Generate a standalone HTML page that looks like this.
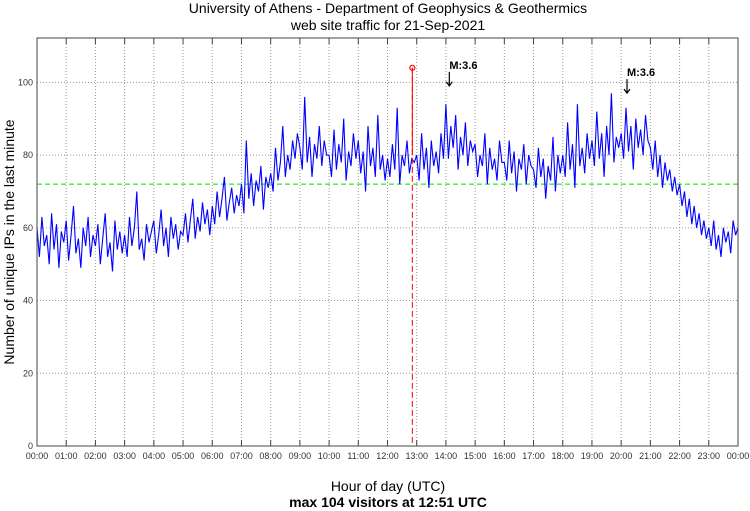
<!DOCTYPE html>
<html><head><meta charset="utf-8"><style>
body{margin:0;background:#fff;}
svg{display:block;font-family:"Liberation Sans",sans-serif;}
</style></head><body>
<svg id="chart" width="750" height="511" viewBox="0 0 750 511">
<text x="388" y="13" text-anchor="middle" font-size="14">University of Athens - Department of Geophysics &amp; Geothermics</text>
<text x="388" y="30" text-anchor="middle" font-size="14">web site traffic for 21-Sep-2021</text>
<g id="grid"></g>
<g id="axes"></g>
<line id="avgline" stroke="#00dd00" stroke-dasharray="5,3" stroke-width="1"/>
<polyline id="series" fill="none" stroke="#0000ff" stroke-width="1.1"/>
<line id="maxline" stroke="#ff0000" stroke-dasharray="6,3" stroke-width="1"/>
<circle id="maxdot" r="2.5" fill="none" stroke="#ff0000" stroke-width="1.2"/>
<g id="events"></g>
<rect x="37" y="38" width="701" height="408" fill="none" stroke="#444" stroke-width="1"/>
<text transform="translate(14,242) rotate(-90)" text-anchor="middle" font-size="14">Number of unique IPs in the last minute</text>
<text x="388" y="491" text-anchor="middle" font-size="14">Hour of day (UTC)</text>
<text x="388" y="507" text-anchor="middle" font-size="14" font-weight="bold">max 104 visitors at 12:51 UTC</text>
</svg>
<script>
const values = [
60,52,63,55,58,50,64,54,61,49,59,56,
62,51,58,66,53,57,49,60,55,63,52,58,
55,61,50,57,64,52,56,48,62,54,59,53,
58,52,63,55,60,70,54,57,51,61,56,59,
62,53,58,65,55,60,52,63,57,61,54,59,
58,64,56,62,68,57,63,59,67,61,65,58,
66,61,70,63,68,74,62,67,71,64,69,66,
72,64,84,68,75,66,73,70,77,65,74,71,
75,70,82,73,78,88,74,80,76,84,79,86,
82,76,96,78,85,74,83,79,88,77,84,80,
80,74,87,76,83,78,90,73,81,77,86,79,
84,75,81,70,88,77,82,74,91,76,80,73,
79,74,83,76,93,72,80,77,84,75,79,78,
80,73,86,76,82,71,84,77,81,75,86,79,
94,79,88,82,91,76,85,80,89,77,84,81,
83,74,80,77,86,72,82,76,79,73,84,78,
78,73,84,75,81,70,79,76,83,72,80,77,
76,71,82,74,79,68,77,73,85,70,80,75,
80,74,89,76,83,71,94,77,82,75,86,79,
84,77,92,79,86,74,88,80,97,78,85,82,
86,79,93,81,88,76,90,82,87,80,91,84,
82,76,84,74,80,71,78,73,76,70,74,69,
72,66,70,63,68,61,66,60,64,58,62,57,
60,55,62,54,58,52,60,56,59,53,62,58,60];
const stepMinutes = 5;
const yTicks = [0,20,40,60,80,100];
const xTickLabels = ["00:00","01:00","02:00","03:00","04:00","05:00","06:00","07:00","08:00","09:00","10:00","11:00","12:00","13:00","14:00","15:00","16:00","17:00","18:00","19:00","20:00","21:00","22:00","23:00","00:00"];
const avgValue = 72;
const maxValue = 104;
const maxMinute = 12*60+51;
const eventLabels = ["M:3.6","M:3.6"];
const eventMinutes = [14*60+7, 20*60+12];
const eventValues = [98.5, 96.5];

const X0=37,X1=738,Y0=446,Y1=38,YMAX=112.2;
const xs = m => X0 + m/1440*(X1-X0);
const ys = v => Y0 - v/YMAX*(Y0-Y1);
const NS="http://www.w3.org/2000/svg";
function mk(tag,attrs,parent){const e=document.createElementNS(NS,tag);for(const k in attrs)e.setAttribute(k,attrs[k]);parent.appendChild(e);return e;}
const grid=document.getElementById('grid'), axes=document.getElementById('axes');
yTicks.forEach(v=>{
  const y=ys(v);
  if(v>0){const g=mk('line',{x1:X0,x2:X1,y1:y,y2:y,stroke:'#999','stroke-dasharray':'1,2'},grid);
  
  }
  const t=mk('text',{x:X0-4,y:y+3,'text-anchor':'end','font-size':'9',fill:'#333'},axes);
  t.textContent=v;
  
  
});
xTickLabels.forEach((lab,i)=>{
  const x=xs(i*60);
  if(i>0&&i<24){const g=mk('line',{x1:x,x2:x,y1:Y1,y2:Y0,stroke:'#999','stroke-dasharray':'1,2'},grid);
  
  
  mk('line',{x1:x,x2:x,y1:Y0,y2:Y0-6,stroke:'#444'},axes);
  mk('line',{x1:x,x2:x,y1:Y1,y2:Y1+6,stroke:'#444'},axes);}
  const t=mk('text',{x:x,y:Y0+13,'text-anchor':'middle','font-size':'9',fill:'#333'},axes);
  t.textContent=lab;
  
  
});
const avg=document.getElementById('avgline');
avg.setAttribute('x1',X0);avg.setAttribute('x2',X1);avg.setAttribute('y1',ys(avgValue));avg.setAttribute('y2',ys(avgValue));
document.getElementById('series').setAttribute('points',values.map((v,i)=>xs(i*stepMinutes).toFixed(1)+','+ys(v).toFixed(1)).join(' '));
const ml=document.getElementById('maxline');
ml.setAttribute('x1',xs(maxMinute));ml.setAttribute('x2',xs(maxMinute));ml.setAttribute('y1',ys(maxValue));ml.setAttribute('y2',Y0);
mk('line',{x1:xs(maxMinute),x2:xs(maxMinute),y1:ys(maxValue),y2:ys(80),stroke:'#ff0000','stroke-width':1},document.getElementById('chart'));
const md=document.getElementById('maxdot');md.setAttribute('cx',xs(maxMinute));md.setAttribute('cy',ys(maxValue));
const ev=document.getElementById('events');
eventMinutes.forEach((m,i)=>{
  const x=xs(m), yt=ys(eventValues[i])-2;
  const a=mk('path',{d:`M${x},${yt-14} L${x},${yt} M${x-3},${yt-4} L${x},${yt} L${x+3},${yt-4}`,stroke:'#000',fill:'none','stroke-width':1.2},ev);
  
  
  const t=mk('text',{x:x,y:yt-17,'font-size':'11','font-weight':'bold'},ev);
  t.textContent=eventLabels[i];
  
  
});
</script>
</body></html>
